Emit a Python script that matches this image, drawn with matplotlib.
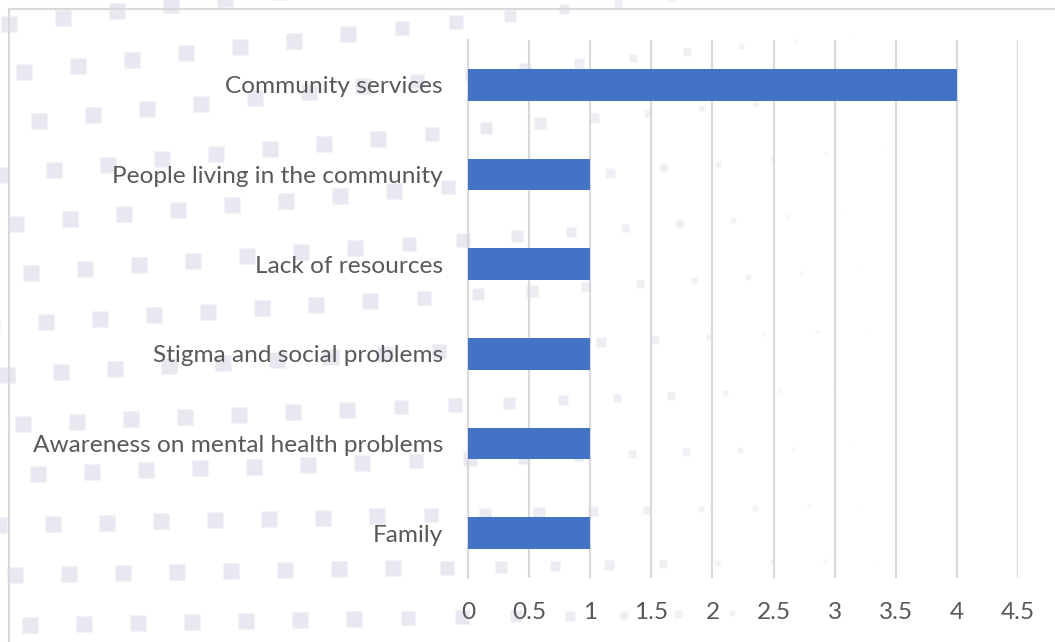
import numpy as np
import matplotlib
matplotlib.use('Agg')
import matplotlib.pyplot as plt

categories = ['Family', 'Awareness on mental health problems', 'Stigma and social problems',
              'Lack of resources', 'People living in the community', 'Community services']
values = [1, 1, 1, 1, 1, 4]
xticks = [0, 0.5, 1, 1.5, 2, 2.5, 3, 3.5, 4, 4.5]
xticklabels = ['0', '0.5', '1', '1.5', '2', '2.5', '3', '3.5', '4', '4.5']

plt.rcParams['font.family'] = ['Lato', 'DejaVu Sans']

W, H = 1055, 642
fig = plt.figure(figsize=(W / 100, H / 100), dpi=100)
fig.patch.set_facecolor('white')

# faint dotted backdrop: tilted rows of squares that shrink and fade to the right
bg = fig.add_axes([0, 0, 1, 1], zorder=0)
bg.set_xlim(0, W)
bg.set_ylim(H, 0)
bg.axis('off')
for r in range(0, 13):
    yl = 25 + 50 * r
    x0 = (15 * r) % 53 - 45
    dy = -6.3 + min(max((yl - 75) / 400.0, 0), 1.2) * 4.5
    for c in range(0, 22):
        x = x0 + c * 54
        y = yl + dy * (x / 54.0)
        if x < -10 or x > W or y < -10 or y > H + 10:
            continue
        if x < 380:
            s = 15.5
        else:
            s = 15.5 * (1 - (x - 380) / 560.0)
        if s < 1.5:
            continue
        a = 1.0 if x < 450 else max(0.3, 1 - (x - 450) / 600.0)
        bg.plot(x, y, marker='s', ms=s * 0.72, color='#e8e9f0', alpha=a, mec='none')

# outer frame lines (top and left)
bg.plot([9, W], [9, 9], color='#d9d9d9', lw=1.5)
bg.plot([9, 9], [9, H], color='#d9d9d9', lw=1.5)

ax = fig.add_axes([468 / W, 1 - 578 / H, 550 / W, 538 / H], zorder=1)
ax.set_facecolor('none')
ypos = np.arange(len(categories))
ax.barh(ypos, values, height=0.35, color='#4472C4', zorder=3)
ax.set_xlim(0, 4.5)
ax.set_ylim(-0.5, len(categories) - 0.5)
ax.set_yticks(ypos)
ax.set_yticklabels(categories, fontsize=17.6, color='#595959')
ax.set_xticks(xticks)
ax.set_xticklabels(xticklabels, fontsize=17.6, color='#595959')
ax.tick_params(axis='both', length=0)
ax.tick_params(axis='y', pad=18)
ax.tick_params(axis='x', pad=17)
ax.grid(axis='x', color='#d9d9d9', lw=1.5, zorder=0)
ax.set_axisbelow(True)
for s in ['top', 'right', 'bottom']:
    ax.spines[s].set_visible(False)
ax.spines['left'].set_color('#d9d9d9')
ax.spines['left'].set_linewidth(1.5)

fig.savefig('out.png', dpi=100)
